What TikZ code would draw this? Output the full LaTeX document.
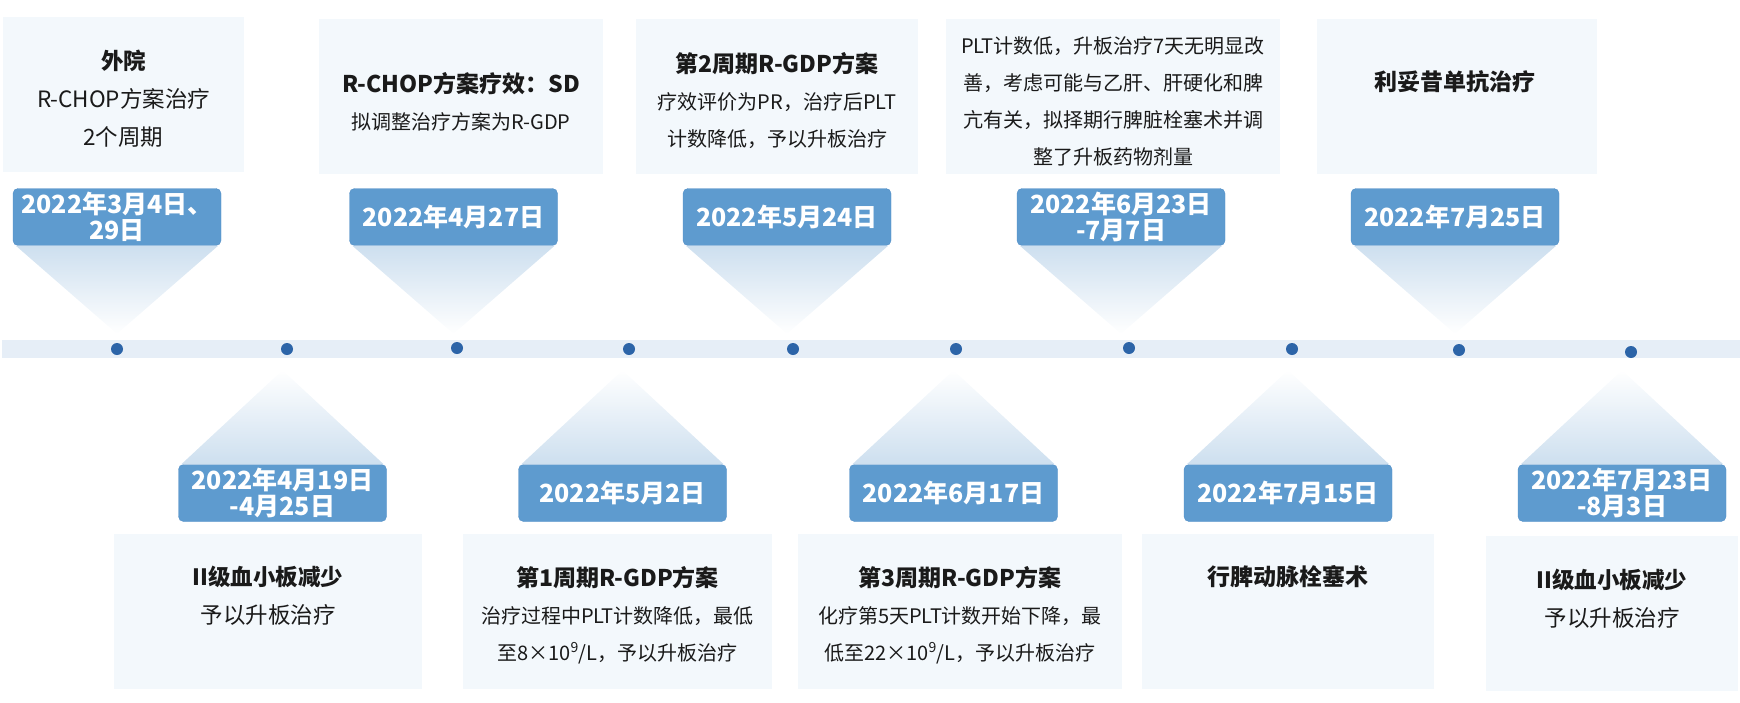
\documentclass[tikz,border=0pt]{standalone}
\usepackage{fontspec}
\setmainfont{Noto Sans CJK SC}
\usetikzlibrary{positioning,calc}

\definecolor{bandbg}{RGB}{230,238,247}
\definecolor{boxbg}{RGB}{243,248,252}
\definecolor{tagblue}{RGB}{94,155,207}
\definecolor{tagedge}{RGB}{82,143,200}
\definecolor{dotblue}{RGB}{44,100,168}
\definecolor{funnel}{RGB}{205,223,239}
\definecolor{ink}{RGB}{26,26,26}

\newcommand{\hdtext}[1]{{\fontsize{23}{37}\selectfont\bfseries #1}}

\begin{document}
\begin{tikzpicture}[x=1pt, y=-1pt,
    every node/.append style={align=center},
    box/.style={fill=boxbg, minimum height=155pt, inner sep=0pt},
    datetag/.style={fill=tagblue, draw=tagedge, rounded corners=5pt, minimum width=208pt,
      minimum height=57pt, inner sep=0pt, text=white, font=\fontsize{25}{26}\selectfont\bfseries},
    dot/.style={circle, fill=dotblue, minimum size=12pt, inner sep=0pt},
    txt/.style={text=ink, font=\fontsize{20}{37}\selectfont},
    bigtxt/.style={text=ink, font=\fontsize{22.5}{38}\selectfont},
    fadedown/.style={top color=funnel, bottom color=white},
    fadeup/.style={top color=white, bottom color=funnel}]
   \useasboundingbox (0,0) rectangle (1740,702);

   % timeline
   \node [fill=bandbg, minimum width=1738pt, minimum height=18pt, inner sep=0pt] (band) at (871,349) {};
   \node [dot] (d1)  at (117,349) {};
   \node [dot] (d2)  at (287,349) {};
   \node [dot] (d3)  at (457,348) {};
   \node [dot] (d4)  at (629,349) {};
   \node [dot] (d5)  at (793,349) {};
   \node [dot] (d6)  at (956,349) {};
   \node [dot] (d7)  at (1129,348) {};
   \node [dot] (d8)  at (1292,349) {};
   \node [dot] (d9)  at (1459,350) {};
   \node [dot] (d10) at (1631,352) {};

   % upper events
   \node [box, minimum width=241pt] (up1) at (123.5,94.5) {};
   \node [box, minimum width=284pt] (up2) at (461,96.5) {};
   \node [box, minimum width=282pt] (up3) at (777,96.5) {};
   \node [box, minimum width=334pt] (up4) at (1113,96.5) {};
   \node [box, minimum width=280pt] (up5) at (1456.5,96.5) {};

   \node [bigtxt] (up1txt) at (123.5,98.5) {{\bfseries 外院}\\R-CHOP方案治疗\\2个周期};
   \node [txt] (up2txt) at (461,101.5) {\hdtext{R-CHOP方案疗效：SD}\\拟调整治疗方案为R-GDP};
   \node [txt] (up3txt) at (777,101) {\hdtext{第2周期R-GDP方案}\\疗效评价为PR，治疗后PLT\\计数降低，予以升板治疗};
   \node [txt] (up4txt) at (1113,101) {PLT计数低，升板治疗7天无明显改\\善，考虑可能与乙肝、肝硬化和脾\\亢有关，拟择期行脾脏栓塞术并调\\整了升板药物剂量};
   \node [txt] (up5txt) at (1455,82) {\hdtext{利妥昔单抗治疗}};

   \node [datetag] (g1) at (117,217)    {2022年3月4日、\\29日};
   \node [datetag] (g2) at (453.5,217)  {2022年4月27日};
   \node [datetag] (g3) at (787,217)    {2022年5月24日};
   \node [datetag] (g4) at (1121,217)   {2022年6月23日\\-7月7日};
   \node [datetag] (g5) at (1455,217)   {2022年7月25日};

   \shade [fadedown] ([xshift=3pt]g1.south west) -- ([xshift=-3pt]g1.south east) -- ($(g1.south |- band.north)+(0,-6)$) -- cycle;
   \shade [fadedown] ([xshift=3pt]g2.south west) -- ([xshift=-3pt]g2.south east) -- ($(g2.south |- band.north)+(0,-6)$) -- cycle;
   \shade [fadedown] ([xshift=3pt]g3.south west) -- ([xshift=-3pt]g3.south east) -- ($(g3.south |- band.north)+(0,-6)$) -- cycle;
   \shade [fadedown] ([xshift=3pt]g4.south west) -- ([xshift=-3pt]g4.south east) -- ($(g4.south |- band.north)+(0,-6)$) -- cycle;
   \shade [fadedown] ([xshift=3pt]g5.south west) -- ([xshift=-3pt]g5.south east) -- ($(g5.south |- band.north)+(0,-6)$) -- cycle;

   % lower events
   \node [datetag] (g6)  at (282.5,493)  {2022年4月19日\\-4月25日};
   \node [datetag] (g7)  at (622.5,493)  {2022年5月2日};
   \node [datetag] (g8)  at (953.5,493)  {2022年6月17日};
   \node [datetag] (g9)  at (1288,493)   {2022年7月15日};
   \node [datetag] (g10) at (1622,493)   {2022年7月23日\\-8月3日};

   \shade [fadeup] ([xshift=3pt]g6.north west) -- ([xshift=-3pt]g6.north east) -- ($(g6.north |- band.south)+(0,12)$) -- cycle;
   \shade [fadeup] ([xshift=3pt]g7.north west) -- ([xshift=-3pt]g7.north east) -- ($(g7.north |- band.south)+(0,12)$) -- cycle;
   \shade [fadeup] ([xshift=3pt]g8.north west) -- ([xshift=-3pt]g8.north east) -- ($(g8.north |- band.south)+(0,12)$) -- cycle;
   \shade [fadeup] ([xshift=3pt]g9.north west) -- ([xshift=-3pt]g9.north east) -- ($(g9.north |- band.south)+(0,12)$) -- cycle;
   \shade [fadeup] ([xshift=3pt]g10.north west) -- ([xshift=-3pt]g10.north east) -- ($(g10.north |- band.south)+(0,12)$) -- cycle;

   \node [box, minimum width=308pt] (lo1) at (268,611.5) {};
   \node [box, minimum width=309pt] (lo2) at (617.5,611.5) {};
   \node [box, minimum width=324pt] (lo3) at (960,611.5) {};
   \node [box, minimum width=292pt] (lo4) at (1288,611.5) {};
   \node [box, minimum width=252pt] (lo5) at (1612,613) {};

   \node [bigtxt] (lo1txt) at (268,596) {{\bfseries II级血小板减少}\\予以升板治疗};
   \node [txt] (lo2txt) at (617.5,615) {\hdtext{第1周期R-GDP方案}\\治疗过程中PLT计数降低，最低\\至8×10\textsuperscript{9}/L，予以升板治疗};
   \node [txt] (lo3txt) at (960,615) {\hdtext{第3周期R-GDP方案}\\化疗第5天PLT计数开始下降，最\\低至22×10\textsuperscript{9}/L，予以升板治疗};
   \node [txt] (lo4txt) at (1288,577) {\hdtext{行脾动脉栓塞术}};
   \node [bigtxt] (lo5txt) at (1612,599) {{\bfseries II级血小板减少}\\予以升板治疗};
\end{tikzpicture}
\end{document}
